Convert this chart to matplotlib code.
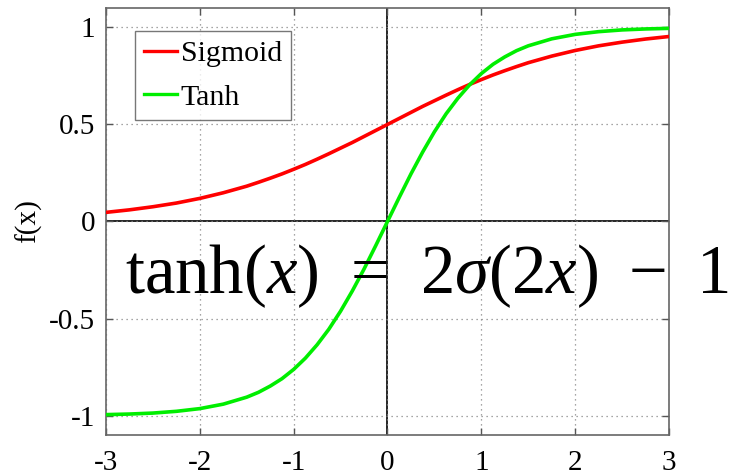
import matplotlib
matplotlib.use("Agg")
import matplotlib.pyplot as plt

# Sample points and curve values
x_vals = [-3.0, -2.75, -2.5, -2.25, -2.0, -1.75, -1.5, -1.375, -1.25, -1.125, -1.0,
          -0.875, -0.75, -0.625, -0.5, -0.375, -0.25, -0.125, 0.0,
          0.125, 0.25, 0.375, 0.5, 0.625, 0.75, 0.875, 1.0,
          1.125, 1.25, 1.375, 1.5, 1.75, 2.0, 2.25, 2.5, 2.75, 3.0]
sigmoid_vals = [0.047, 0.060, 0.076, 0.095, 0.119, 0.148, 0.182, 0.202, 0.223, 0.245, 0.269,
                0.294, 0.321, 0.349, 0.378, 0.407, 0.438, 0.469, 0.500,
                0.531, 0.562, 0.593, 0.622, 0.651, 0.679, 0.706, 0.731,
                0.755, 0.777, 0.798, 0.818, 0.852, 0.881, 0.905, 0.924, 0.940, 0.953]
tanh_vals = [-0.995, -0.992, -0.987, -0.978, -0.964, -0.941, -0.905, -0.880, -0.848, -0.810, -0.762,
             -0.704, -0.635, -0.555, -0.462, -0.358, -0.245, -0.124, 0.000,
             0.124, 0.245, 0.358, 0.462, 0.555, 0.635, 0.704, 0.762,
             0.810, 0.848, 0.880, 0.905, 0.941, 0.964, 0.978, 0.987, 0.992, 0.995]

x_ticks = [-3, -2, -1, 0, 1, 2, 3]
x_tick_labels = ["-3", "-2", "-1", "0", "1", "2", "3"]
y_ticks = [-1, -0.5, 0, 0.5, 1]
y_tick_labels = ["-1", "-0.5", "0", "0.5", "1"]
series_names = ["Sigmoid", "Tanh"]
equation = (r"$\mathrm{tanh}(x)\hspace{0.42}=\hspace{0.42}2\sigma(2x)"
            r"\hspace{0.40}-\hspace{0.38}1$")

plt.rcParams["font.family"] = ["Liberation Serif", "DejaVu Serif"]
plt.rcParams["mathtext.fontset"] = "custom"
plt.rcParams["mathtext.rm"] = "Liberation Serif"
plt.rcParams["mathtext.it"] = "Liberation Serif:italic"

fig = plt.figure(figsize=(7.35, 4.75), dpi=100)
ax = fig.add_axes([0.1442, 0.0842, 0.766, 0.899])

ax.axhline(0, color="black", lw=1.2, zorder=1)
ax.axvline(0, color="black", lw=1.2, zorder=1)

ax.plot(x_vals, sigmoid_vals, color="#ff0000", lw=2.6, label=series_names[0], zorder=3)
ax.plot(x_vals, tanh_vals, color="#00ee00", lw=2.6, label=series_names[1], zorder=3)

ax.set_xlim(-3, 3)
ax.set_ylim(-1.1, 1.1)
ax.set_xticks(x_ticks)
ax.set_xticklabels(x_tick_labels)
ax.set_yticks(y_ticks)
ax.set_yticklabels(y_tick_labels)
ax.tick_params(direction="in", length=5, width=1, color="#555555",
               top=True, right=True, labelsize=21)
ax.tick_params(axis="x", pad=11)
ax.tick_params(axis="y", pad=8)
ax.grid(True, linestyle=(0, (1, 3)), color="#888888", lw=0.9)
for sp in ax.spines.values():
    sp.set_color("#666666")
    sp.set_linewidth(1.2)

ax.set_ylabel("f(x)", fontsize=21, labelpad=5)

leg = ax.legend(loc="upper left", bbox_to_anchor=(0.052, 0.945), fontsize=21.5,
                frameon=True, fancybox=False, edgecolor="#555555",
                handlelength=1.1, handletextpad=0.12, borderpad=0.3,
                labelspacing=0.55, borderaxespad=0)
leg.get_frame().set_linewidth(1.0)
for ln in leg.get_lines():
    ln.set_linewidth(2.4)

fig.text(0.170, 0.383, equation, fontsize=49.5, color="black", va="baseline", ha="left")

fig.savefig("out.png", dpi=100)
